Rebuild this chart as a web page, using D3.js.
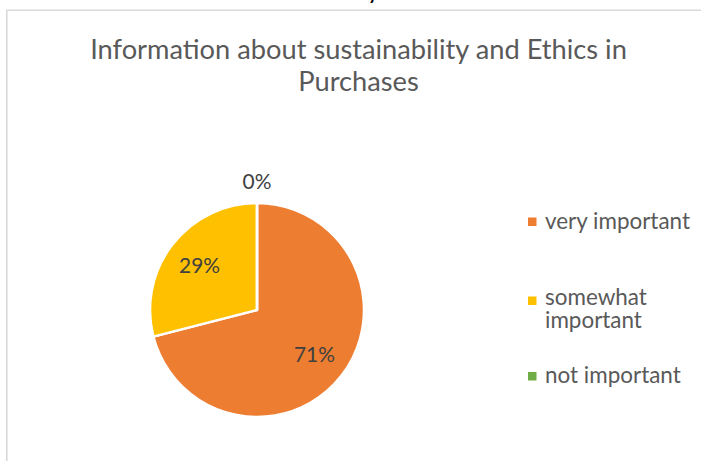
<!DOCTYPE html>
<html>
<head>
<meta charset="utf-8">
<script src="https://cdn.jsdelivr.net/npm/d3@7/dist/d3.min.js"></script>
<style>
  html, body { margin: 0; padding: 0; background: #fff; }
  svg { display: block; }
  text { font-family: Lato, "Open Sans", sans-serif; }
</style>
</head>
<body>
<svg id="chart" width="701" height="461"></svg>
<script>
// Survey answers (percent of respondents)
const categories = ["very important", "somewhat important", "not important"];
const values = [71, 29, 0];
const colors = ["#ED7D31", "#FFC000", "#70AD47"];
const titleLines = ["Information about sustainability and Ethics in", "Purchases"];

const svg = d3.select("#chart");
const W = 701, H = 461;

// scale a text's font size so it spans the given width
function fit(sel, base, target) {
  sel.attr("font-size", base);
  const w = sel.node().getComputedTextLength();
  sel.attr("font-size", base * target / w);
}

// fragment of the page heading above the chart frame
svg.append("text")
  .attr("x", 373).attr("y", 0)
  .attr("text-anchor", "middle")
  .attr("font-family", "Liberation Serif, serif")
  .attr("font-weight", "bold")
  .attr("font-size", 18)
  .attr("fill", "#000")
  .text("y");

// chart frame
svg.append("path")
  .attr("d", `M6.8,${H} V10.3 H${W}`)
  .attr("fill", "none")
  .attr("stroke", "#d9d9d9")
  .attr("stroke-width", 1.6);

// title
const cx = 358.5;
const t1 = svg.append("text")
  .attr("x", cx).attr("y", 59)
  .attr("text-anchor", "middle")
  .attr("fill", "#595959")
  .text(titleLines[0]);
fit(t1, 28, 537);
svg.append("text")
  .attr("x", cx).attr("y", 91)
  .attr("text-anchor", "middle")
  .attr("fill", "#595959")
  .attr("font-size", t1.attr("font-size"))
  .text(titleLines[1]);

// pie
const pcx = 257, pcy = 310, r = 107;
const pie = d3.pie().sort(null).value(d => d)(values);
const arc = d3.arc().innerRadius(0).outerRadius(r);
const labelArc = d3.arc().innerRadius(r * 0.68).outerRadius(r * 0.68);
const outerArc = d3.arc().innerRadius(r + 22).outerRadius(r + 22);

const g = svg.append("g").attr("transform", `translate(${pcx},${pcy})`);
g.selectAll("path.slice")
  .data(pie)
  .join("path")
  .attr("class", "slice")
  .attr("d", arc)
  .attr("fill", (d, i) => colors[i])
  .attr("stroke", "#fff")
  .attr("stroke-width", 2.5)
  .attr("stroke-linejoin", "round");

const labels = g.selectAll("text.lbl")
  .data(pie)
  .join("text")
  .attr("class", "lbl")
  .attr("text-anchor", "middle")
  .attr("fill", "#404040")
  .attr("transform", d => {
    const p = (d.value === 0 ? outerArc : labelArc).centroid(d);
    return `translate(${p[0]},${p[1]})`;
  })
  .attr("dy", "0.36em")
  .text(d => d.value + "%");
// size from the "29%" label width
fit(labels.filter((d, i) => i === 1), 22, 41);
labels.attr("font-size", labels.filter((d, i) => i === 1).attr("font-size"));

// legend
const legendRows = [
  { lines: ["very important"], y: 229, sq: 222 },
  { lines: ["somewhat", "important"], y: 305, sq: 301 },
  { lines: ["not important"], y: 383, sq: 376.5 }
];
const lg = svg.append("g");
const probe = lg.append("text")
  .attr("x", 545).attr("y", legendRows[0].y)
  .text(legendRows[0].lines[0]);
fit(probe, 20, 145);
const lfs = +probe.attr("font-size");
probe.remove();

categories.forEach((c, i) => {
  const row = legendRows[i];
  lg.append("rect")
    .attr("x", 528).attr("y", row.sq - 4.5)
    .attr("width", 8.5).attr("height", 8.5)
    .attr("fill", colors[i]);
  row.lines.forEach((ln, j) => {
    lg.append("text")
      .attr("x", 545).attr("y", row.y + j * 23)
      .attr("fill", "#595959")
      .attr("font-size", lfs)
      .text(ln);
  });
});
</script>
</body>
</html>
